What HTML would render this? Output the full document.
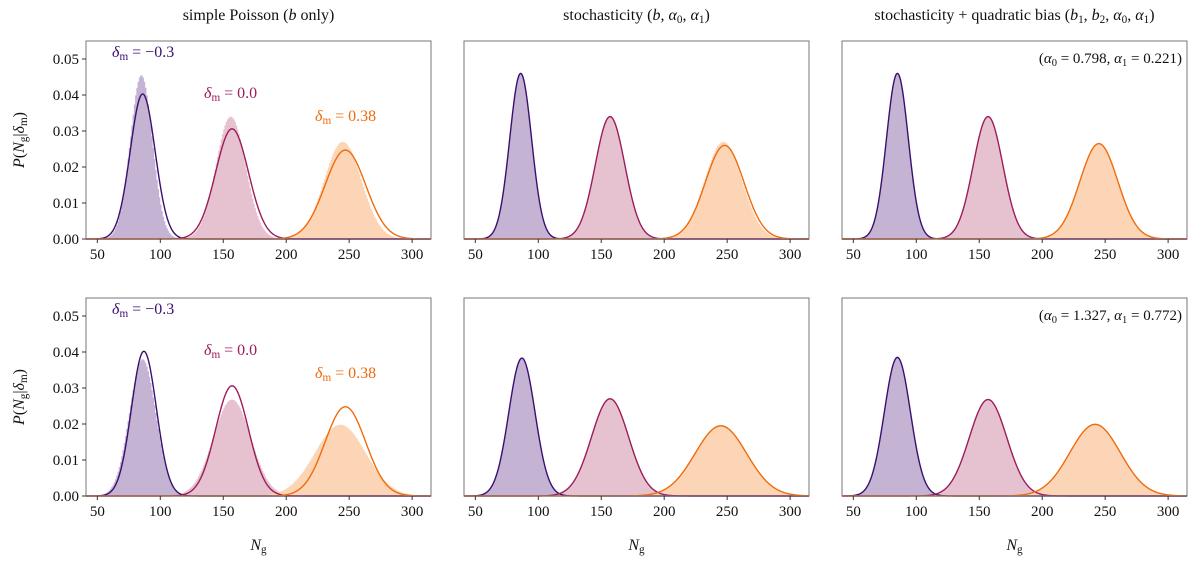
<!DOCTYPE html>
<html><head><meta charset="utf-8">
<style>
body{margin:0;background:#fff;}
svg{display:block;}
svg text, svg tspan{font-family:"Liberation Serif","DejaVu Serif",serif;}
</style></head>
<body>
<svg id="fig" width="1200" height="564" viewBox="0 0 1200 564" xmlns="http://www.w3.org/2000/svg" font-family="Liberation Serif, serif"></svg>
<script>
// ---- data ----
const panelTitles = ["simple Poisson (<i>b</i> only)", "stochasticity (<i>b</i>, <i>α</i><sub>0</sub>, <i>α</i><sub>1</sub>)", "stochasticity + quadratic bias (<i>b</i><sub>1</sub>, <i>b</i><sub>2</sub>, <i>α</i><sub>0</sub>, <i>α</i><sub>1</sub>)"];
const deltaValues = ["−0.3", "0.0", "0.38"];
const xTicks = [50, 100, 150, 200, 250, 300];
const yTicks = [0, 0.01, 0.02, 0.03, 0.04, 0.05];
const yTickLabels = ["0.00", "0.01", "0.02", "0.03", "0.04", "0.05"];
const alphaA0 = [null, null, "0.798", null, null, "1.327"];
const alphaA1 = [null, null, "0.221", null, null, "0.772"];
const curveMeans = [[86,157,247],[86,157,248],[85,157,245],[87,157,247],[87,157,245],[85,157,242]];
const curvePeaks = [[0.0403,0.0306,0.0247],[0.0460,0.0340,0.0260],[0.0460,0.0340,0.0265],[0.0402,0.0306,0.0248],[0.0383,0.0270,0.0195],[0.0385,0.0268,0.0199]];
const histMeans = [[85,156,245],[86,157,247],[85,157,245],[86,157,243],[87,157,245],[85,157,242]];
const histPeaks = [[0.0455,0.0340,0.0270],[0.0462,0.0342,0.0270],[0.0460,0.0340,0.0265],[0.0380,0.0268,0.0198],[0.0383,0.0270,0.0195],[0.0385,0.0268,0.0199]];

const lineColors = ["#3b0f70", "#9c1c5c", "#f06b0c"];
const fillColors = ["#c4b3d3", "#e6c2d0", "#fbd5b6"];
const FONT = "Liberation Serif, DejaVu Serif, serif";
const NS = "http://www.w3.org/2000/svg";
const svg = document.getElementById("fig");
function mk(tag, attrs, parent){const e=document.createElementNS(NS,tag);for(const k in attrs)e.setAttribute(k,attrs[k]);if(tag==="text")e.setAttribute("font-family",FONT);(parent||svg).appendChild(e);return e;}
function rich(el, html){
  const re=/<(i|sub)>(.*?)<\/\1>|([^<]+)/g;let m;
  while((m=re.exec(html))){
    const t=document.createElementNS(NS,"tspan");
    t.setAttribute("font-family",FONT);
    if(m[3]){t.textContent=m[3];}
    else if(m[1]==="i"){t.textContent=m[2];t.setAttribute("font-style","italic");}
    else {t.textContent=m[2];t.setAttribute("font-size","0.7em");t.setAttribute("baseline-shift","-25%");}
    el.appendChild(t);
  }
}

const X_MIN=41, X_MAX=315, Y_MAX=0.055;
const lefts=[86,464,842], tops=[41,298], W=345, H=198;

function gauss(x,m,p){const s=1/(p*Math.sqrt(2*Math.PI));return p*Math.exp(-0.5*((x-m)/s)**2);}

for(let r=0;r<2;r++)for(let c=0;c<3;c++){
  const idx=r*3+c, L=lefts[c], T=tops[r];
  const xs=v=>L+(v-X_MIN)/(X_MAX-X_MIN)*W;
  const ys=v=>T+H-v/Y_MAX*H;
  const g=mk("g",{});
  
  
  for(let s=0;s<3;s++){
    let d="M"+xs(X_MIN)+","+ys(0);
    for(let b=X_MIN;b<X_MAX;b++){
      const v=gauss(b+0.5,histMeans[idx][s],histPeaks[idx][s]);
      d+=" L"+xs(b)+","+ys(v)+" L"+xs(b+1)+","+ys(v);
    }
    d+=" L"+xs(X_MAX)+","+ys(0)+"Z";
    const h=mk("path",{d:d,fill:fillColors[s],stroke:"none"},g);
    
    
  }
  for(let s=0;s<3;s++){
    let d="";
    for(let x=X_MIN;x<=X_MAX;x+=0.5){
      d+=(d?" L":"M")+xs(x).toFixed(2)+","+ys(gauss(x,curveMeans[idx][s],curvePeaks[idx][s])).toFixed(2);
    }
    const p=mk("path",{d:d,fill:"none",stroke:lineColors[s],"stroke-width":1.4},g);
    
    
  }
  const f=mk("rect",{x:L,y:T,width:W,height:H,fill:"none",stroke:"#777","stroke-width":1},g);
  
  
  xTicks.forEach(t=>{
    mk("line",{x1:xs(t),x2:xs(t),y1:T+H,y2:T+H+4,stroke:"#333"},g);
    const tx=mk("text",{x:xs(t),y:T+H+20,"text-anchor":"middle","font-size":15,fill:"#111"},g);
    tx.textContent=t;
    
    
  });
  if(c===0){
    yTicks.forEach((t,i)=>{
      mk("line",{x1:L-4,x2:L,y1:ys(t),y2:ys(t),stroke:"#333"},g);
      const ty=mk("text",{x:L-7,y:ys(t)+5,"text-anchor":"end","font-size":15,fill:"#111"},g);
      ty.textContent=yTickLabels[i];
      
      
    });
    const yl=mk("text",{x:0,y:0,"text-anchor":"middle","font-size":16,fill:"#111",transform:"translate(24,"+(T+H/2)+") rotate(-90)"},g);
    rich(yl,"<i>P</i>(<i>N</i><sub>g</sub>|<i>δ</i><sub>m</sub>)");
    
    
    const lx=[[112,57],[204,98],[315,121]];
    for(let s=0;s<3;s++){
      const dl=mk("text",{x:lx[s][0],y:lx[s][1]+(T-41),"font-size":16,fill:lineColors[s]},g);
      rich(dl,"<i>δ</i><sub>m</sub> = "+deltaValues[s]);
      
      
    }
  }
  if(r===0){
    const tt=mk("text",{x:L+W/2,y:20,"text-anchor":"middle","font-size":16,fill:"#111"},g);
    rich(tt,panelTitles[c]);
    
    
  }
  if(r===1){
    const xl=mk("text",{x:L+W/2,y:550,"text-anchor":"middle","font-size":16,fill:"#111"},g);
    rich(xl,"<i>N</i><sub>g</sub>");
    
    
  }
  if(alphaA0[idx]){
    const an=mk("text",{x:L+W-5,y:T+22,"text-anchor":"end","font-size":15,fill:"#111"},g);
    rich(an,"(<i>α</i><sub>0</sub> = "+alphaA0[idx]+", <i>α</i><sub>1</sub> = "+alphaA1[idx]+")");
    
    
  }
}
</script>
</body></html>
